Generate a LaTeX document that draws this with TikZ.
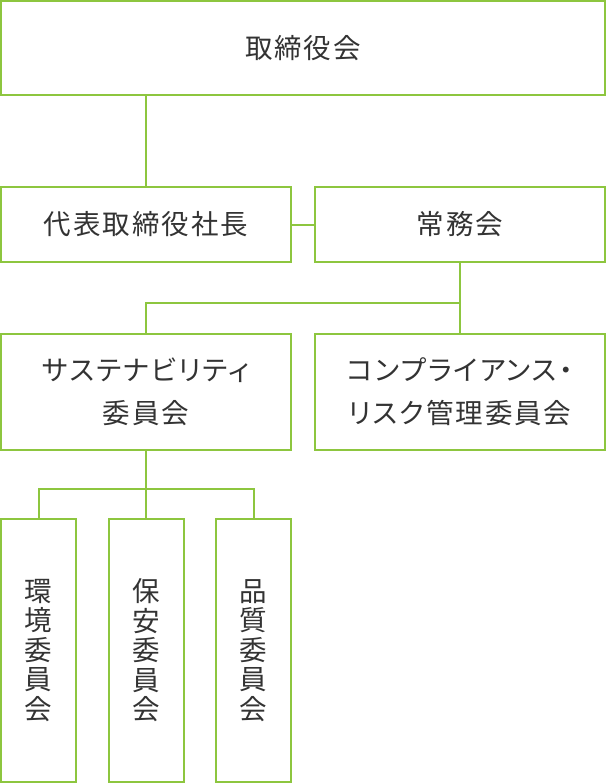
\documentclass[tikz,border=0pt]{standalone}
\usepackage{fontspec}
\setmainfont{Noto Sans CJK JP}[LetterSpace=7,RawFeature=+palt]
\definecolor{linegreen}{HTML}{8DC63F}
\definecolor{txtgray}{HTML}{333333}
\begin{document}
\begin{tikzpicture}[x=1pt,y=-1pt,
  box/.style={draw=linegreen,line width=2pt,rectangle,inner sep=0pt,outer sep=0pt,
    text=txtgray,font=\fontsize{27.5}{43}\selectfont,align=center},
  vbox/.style={box,font=\fontsize{27.5}{29.5}\selectfont},
  conn/.style={draw=linegreen,line width=2pt}]
\useasboundingbox (0,0) rectangle (606,784);
\node[box,minimum width=604pt,minimum height=94pt] (top) at (303,48) {取締役会};
\node[box,minimum width=290pt,minimum height=75pt] (ceo) at (146,224.5) {代表取締役社長};
\node[box,minimum width=290pt,minimum height=75pt] (jomu) at (460,224.5) {常務会};
\node[box,minimum width=290pt,minimum height=116pt] (sus) at (146,392) {サステナビリティ\\委員会};
\node[box,minimum width=290pt,minimum height=116pt] (comp) at (460,392) {コンプライアンス・\\リスク管理委員会};
\node[vbox,minimum width=75pt,minimum height=263pt] (env) at (38.5,650.5) {環\\境\\委\\員\\会};
\node[vbox,minimum width=75pt,minimum height=263pt] (hoan) at (146.5,650.5) {保\\安\\委\\員\\会};
\node[vbox,minimum width=75pt,minimum height=263pt] (qual) at (253.5,650.5) {品\\質\\委\\員\\会};
\coordinate (b1) at (460,303);
\coordinate (b2) at (146,489);
\draw[conn] (ceo.north) -- (ceo.north |- top.south);
\draw[conn] (ceo.east) -- (jomu.west);
\draw[conn] (jomu.south) -- (comp.north);
\draw[conn] (b1) -| (sus.north);
\draw[conn] (sus.south) -- (sus.south |- hoan.north);
\draw[conn] (env.north) |- (b2) -| (qual.north);
\end{tikzpicture}
\end{document}
